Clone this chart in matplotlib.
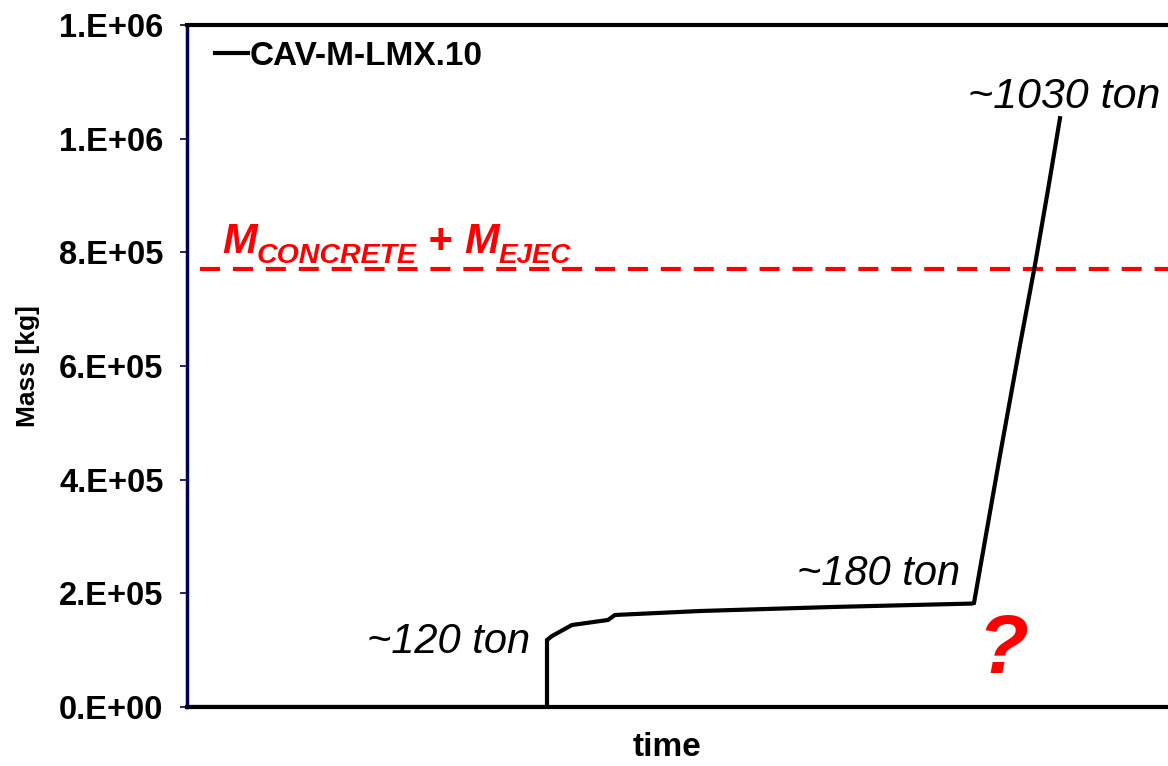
import matplotlib
matplotlib.use("Agg")
import matplotlib.pyplot as plt
from matplotlib.ticker import FuncFormatter
import math

plt.rcParams["font.family"] = ["Liberation Sans", "DejaVu Sans"]

# time in arbitrary units (no values on the x axis)
time = [0, 360, 360, 365, 385, 421, 428, 513, 646, 785, 787, 813, 833, 848, 861, 873]
mass = [0, 0, 117900, 124900, 144300, 153100, 161900, 168900, 176000, 182000,
        183000, 443000, 637000, 778000, 910000, 1036000]
series_name = "CAV-M-LMX.10"

m_limit = 770000
yticks = [0, 200000, 400000, 600000, 800000, 1000000, 1200000]


def excel_fmt(v, pos=None):
    if v == 0:
        return "0.E+00"
    e = int(math.floor(math.log10(v)))
    m = int(round(v / 10 ** e))
    return "%d.E+%02d" % (m, e)


fig = plt.figure(figsize=(11.68, 7.66), dpi=100)
ax = fig.add_axes([187 / 1168, 59 / 766, 981 / 1168, 682 / 766])

ax.plot(time, mass, color="black", lw=3, solid_joinstyle="miter", label=series_name, zorder=3)
ax.plot([13, 1100], [m_limit, m_limit], color="red", lw=3, dashes=(4.8, 3.1), zorder=2)

ax.set_xlim(0, 981)
ax.set_ylim(0, 1200000)
ax.set_yticks(yticks)
ax.yaxis.set_major_formatter(FuncFormatter(excel_fmt))
ax.set_xticks([])

navy = "#000050"
ax.spines["left"].set_color(navy)
ax.spines["left"].set_linewidth(2.5)
ax.spines["top"].set_linewidth(3)
ax.spines["bottom"].set_linewidth(3)
ax.spines["right"].set_visible(False)
ax.tick_params(axis="y", direction="out", length=5, width=1.2, color=navy, pad=12,
               labelsize=23.5)
for t in ax.get_yticklabels():
    t.set_fontweight("bold")

ax.set_ylabel("Mass [kg]", fontsize=19, fontweight="bold")
ax.yaxis.set_label_coords(-0.150, 0.5)
ax.set_xlabel("time", fontsize=24, fontweight="bold", va="center")
ax.xaxis.set_label_coords(0.489, -0.059)

leg = ax.legend(loc="center left", bbox_to_anchor=(0.0285, 0.9545), frameon=False,
                handlelength=1.0, handletextpad=0.05, borderpad=0, borderaxespad=0,
                prop={"size": 24, "weight": "bold"})

# annotations
ax.text(343, 95000, "~120 ton", fontsize=30, style="italic", ha="right", va="baseline")
ax.text(773, 215000, "~180 ton", fontsize=30, style="italic", ha="right", va="baseline")
ax.text(781, 1054000, "~1030 ton", fontsize=31, style="italic", ha="left", va="baseline")
ax.text(816, 60000, "?", fontsize=60, style="italic", fontweight="bold", color="red",
        ha="center", va="baseline")

# M_CONCRETE + M_EJEC label built from pieces
red = dict(color="red", fontweight="bold")
t1 = ax.text(35, 799000, "M", fontsize=30, style="italic", va="baseline", **red)
t2 = ax.annotate("CONCRETE", xy=(1, 0), xycoords=t1, xytext=(0, -5), textcoords="offset points",
                 fontsize=20.5, style="italic", va="bottom", **red)
t3 = ax.annotate(" + ", xy=(1, 0), xycoords=t2, xytext=(0, 5), textcoords="offset points",
                 fontsize=30, va="bottom", **red)
t4 = ax.annotate("M", xy=(1, 0), xycoords=t3, fontsize=30, style="italic", va="bottom", **red)
ax.annotate("EJEC", xy=(1, 0), xycoords=t4, xytext=(0, -5), textcoords="offset points",
            fontsize=20, style="italic", va="bottom", **red)

fig.savefig("out.png", dpi=100)
